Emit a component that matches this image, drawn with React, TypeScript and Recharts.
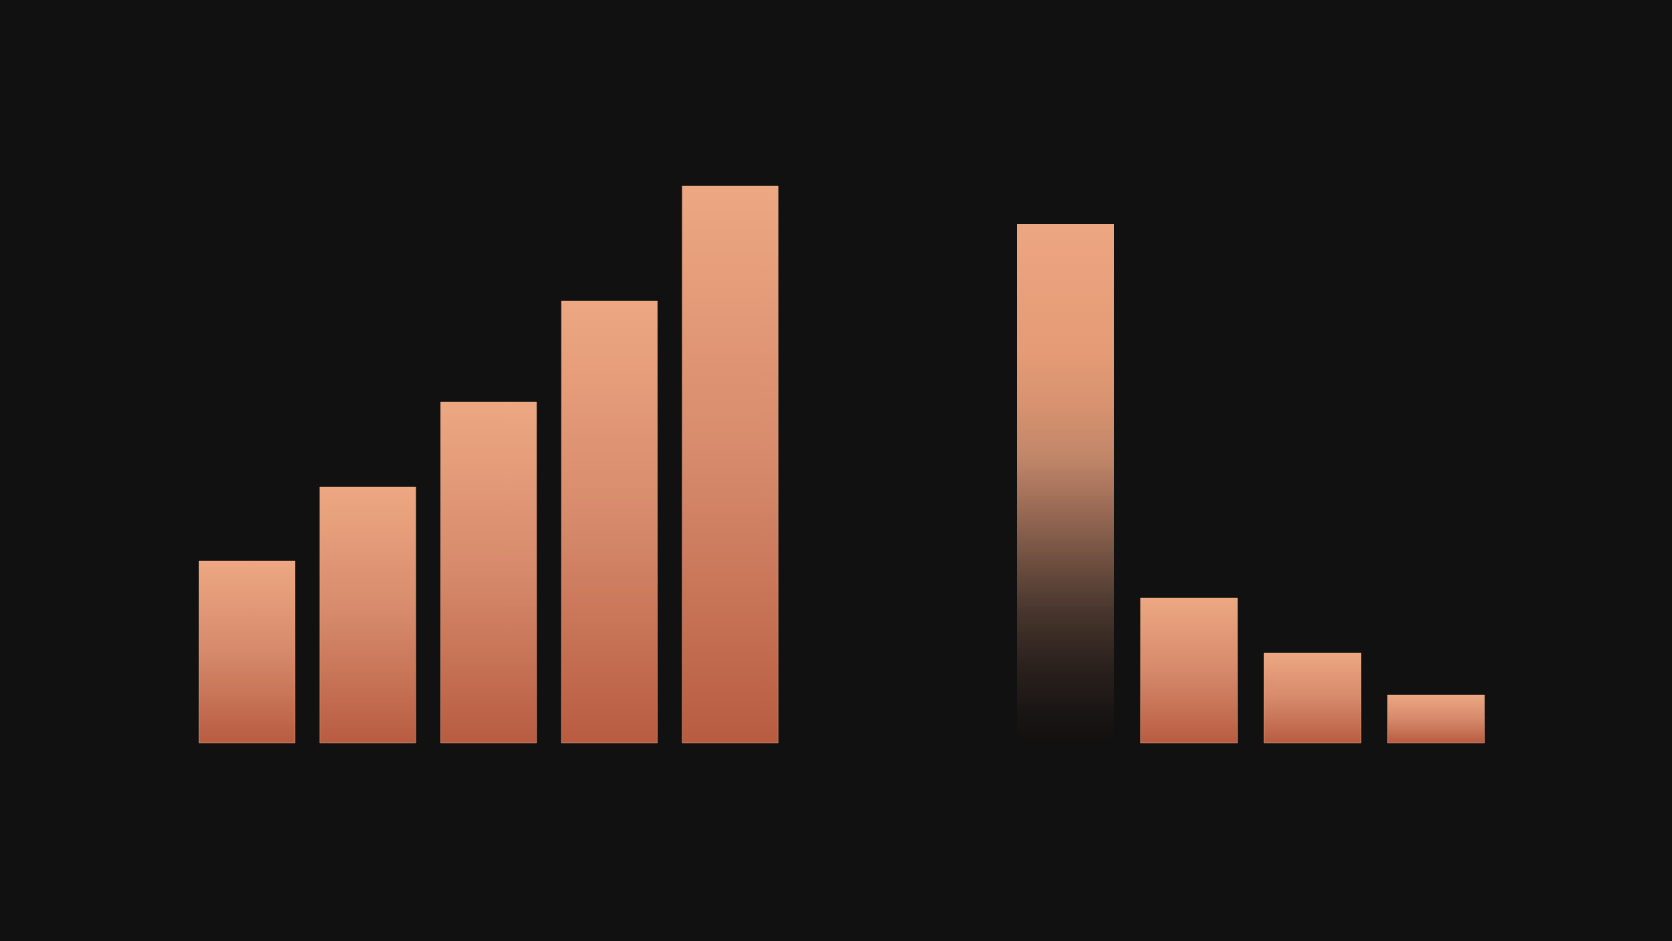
import React from "react";
import { BarChart, Bar, XAxis, YAxis, Cell } from "recharts";

// left group of bars (rising)
const leftCategories = ["Q1", "Q2", "Q3", "Q4", "Q5"];
const leftValues = [18.2, 25.6, 34.1, 44.2, 55.7];

// right group of bars (first one fades out)
const rightCategories = ["R1", "R2", "R3", "R4"];
const rightValues = [51.9, 14.5, 9.0, 4.8];
const fadedIndex = 0;

const yMax = 60;

const leftData = leftCategories.map((name, i) => ({ name, value: leftValues[i] }));
const rightData = rightCategories.map((name, i) => ({ name, value: rightValues[i] }));

const W = 1672;
const H = 941;
const TOP = 143;
const BOTTOM = 198;

function Gradients() {
  return (
    <defs>
      <linearGradient id="copper" x1="0" y1="0" x2="0" y2="1">
        <stop offset="0%" stopColor="#eda782" />
        <stop offset="50%" stopColor="#d68a6b" />
        <stop offset="100%" stopColor="#b85c41" />
      </linearGradient>
      <linearGradient id="fade" x1="0" y1="0" x2="0" y2="1">
        <stop offset="0%" stopColor="#eca681" />
        <stop offset="25%" stopColor="#e49b76" />
        <stop offset="35%" stopColor="#d8926f" />
        <stop offset="45%" stopColor="#c08669" />
        <stop offset="55%" stopColor="#9a6a55" />
        <stop offset="65%" stopColor="#6e4f40" />
        <stop offset="75%" stopColor="#46352c" />
        <stop offset="85%" stopColor="#2b211d" />
        <stop offset="95%" stopColor="#181413" />
        <stop offset="100%" stopColor="#121110" />
      </linearGradient>
    </defs>
  );
}

export default function App() {
  return (
    <div
      style={{
        position: "fixed",
        left: 0,
        top: 0,
        width: W,
        height: H,
        background: "#111111",
      }}
    >
      <div style={{ position: "absolute", left: 0, top: 0 }}>
        <BarChart
          width={W}
          height={H}
          data={leftData}
          margin={{ top: TOP, bottom: BOTTOM, left: 187, right: 881 }}
        >
          <Gradients />
          <XAxis dataKey="name" hide />
          <YAxis hide domain={[0, yMax]} />
          <Bar
            dataKey="value"
            barSize={96}
            fill="url(#copper)"
            stroke="#f2ae8c"
            strokeOpacity={0.35}
            strokeWidth={1}
            isAnimationActive={false}
          />
        </BarChart>
      </div>
      <div style={{ position: "absolute", left: 0, top: 0 }}>
        <BarChart
          width={W}
          height={H}
          data={rightData}
          margin={{ top: TOP, bottom: BOTTOM, left: 1004, right: 174 }}
        >
          <Gradients />
          <XAxis dataKey="name" hide />
          <YAxis hide domain={[0, yMax]} />
          <Bar dataKey="value" barSize={97} isAnimationActive={false}>
            {rightData.map((d, i) => (
              <Cell
                key={d.name}
                fill={i === fadedIndex ? "url(#fade)" : "url(#copper)"}
                stroke={i === fadedIndex ? "none" : "#f2ae8c"}
                strokeOpacity={0.35}
              />
            ))}
          </Bar>
        </BarChart>
      </div>
    </div>
  );
}
